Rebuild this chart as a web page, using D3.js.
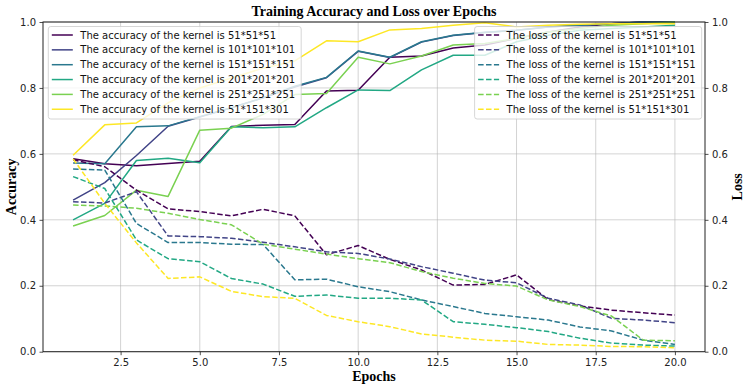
<!DOCTYPE html>
<html>
<head>
<meta charset="utf-8">
<script src="https://cdn.jsdelivr.net/npm/d3@7"></script>
<style>
  html, body { margin: 0; padding: 0; background: #fff; }
  svg { display: block; }
</style>
</head>
<body>
<svg id="chart" width="747" height="389"></svg>
<script>
// ---------------- data ----------------
const epochs = d3.range(1, 21);
const kernels = ["51*51*51", "101*101*101", "151*151*151", "201*201*201", "251*251*251", "51*151*301"];
const colors = ["#440154", "#414487", "#2a788e", "#22a884", "#7ad151", "#fde725"];

const acc51  = [0.585, 0.570, 0.564, 0.571, 0.578, 0.683, 0.687, 0.689, 0.791, 0.793, 0.893, 0.897, 0.921, 0.930, 0.950, 0.970, 0.985, 0.995, 1.000, 1.000];
const acc101 = [0.460, 0.513, 0.595, 0.684, 0.712, 0.740, 0.770, 0.803, 0.831, 0.911, 0.892, 0.939, 0.959, 0.968, 0.975, 0.985, 0.990, 0.995, 1.000, 1.000];
const acc151 = [0.572, 0.570, 0.682, 0.685, 0.713, 0.740, 0.770, 0.805, 0.832, 0.912, 0.893, 0.940, 0.960, 0.969, 0.975, 0.985, 0.990, 0.995, 1.000, 1.000];
const acc201 = [0.400, 0.450, 0.580, 0.587, 0.573, 0.682, 0.679, 0.682, 0.740, 0.794, 0.792, 0.855, 0.899, 0.899, 0.940, 0.960, 0.975, 0.980, 0.985, 0.990];
const acc251 = [0.381, 0.413, 0.490, 0.471, 0.672, 0.678, 0.720, 0.780, 0.783, 0.893, 0.873, 0.897, 0.930, 0.935, 0.950, 0.970, 0.980, 0.990, 0.995, 1.000];
const acc301 = [0.596, 0.688, 0.694, 0.755, 0.800, 0.830, 0.860, 0.882, 0.943, 0.940, 0.976, 0.980, 0.990, 0.998, 0.985, 0.990, 0.993, 0.995, 0.995, 0.995];

const loss51  = [0.582, 0.561, 0.490, 0.433, 0.425, 0.412, 0.432, 0.412, 0.294, 0.322, 0.280, 0.248, 0.202, 0.204, 0.233, 0.158, 0.139, 0.126, 0.118, 0.111];
const loss101 = [0.455, 0.451, 0.485, 0.351, 0.349, 0.344, 0.332, 0.318, 0.303, 0.298, 0.281, 0.258, 0.238, 0.217, 0.209, 0.162, 0.142, 0.101, 0.096, 0.088];
const loss151 = [0.554, 0.551, 0.389, 0.331, 0.331, 0.326, 0.325, 0.218, 0.220, 0.197, 0.182, 0.157, 0.137, 0.116, 0.106, 0.096, 0.075, 0.063, 0.035, 0.022];
const loss201 = [0.531, 0.495, 0.339, 0.282, 0.273, 0.222, 0.205, 0.168, 0.172, 0.162, 0.162, 0.157, 0.091, 0.083, 0.073, 0.061, 0.041, 0.026, 0.020, 0.017];
const loss251 = [0.445, 0.442, 0.435, 0.420, 0.401, 0.385, 0.326, 0.311, 0.296, 0.282, 0.270, 0.243, 0.223, 0.207, 0.199, 0.157, 0.137, 0.108, 0.035, 0.033];
const loss301 = [0.585, 0.450, 0.330, 0.222, 0.227, 0.183, 0.167, 0.162, 0.110, 0.091, 0.076, 0.054, 0.044, 0.035, 0.032, 0.022, 0.020, 0.016, 0.015, 0.012];

const accSeries  = [acc51, acc101, acc151, acc201, acc251, acc301];
const lossSeries = [loss51, loss101, loss151, loss201, loss251, loss301];

const xTicks = [2.5, 5.0, 7.5, 10.0, 12.5, 15.0, 17.5, 20.0];
const yTicks = [0.0, 0.2, 0.4, 0.6, 0.8, 1.0];

const titleText = "Training Accuracy and Loss over Epochs";
const xLabel = "Epochs", yLabelLeft = "Accuracy", yLabelRight = "Loss";

// ---------------- layout ----------------
const L = 43, R = 705, T = 22, B = 351.7;
const svg = d3.select("#chart");
const x = d3.scaleLinear().domain([0.05, 20.95]).range([L, R]);
const yA = d3.scaleLinear().domain([0, 1]).range([B, T]);
const yL = d3.scaleLinear().domain([0, 1]).range([B, T]);

const tickFont = "'DejaVu Sans', sans-serif";
const serif = "'Liberation Serif', 'Times New Roman', serif";

// grid
const grid = svg.append("g");
grid.selectAll("line.gx").data(xTicks).join("line")
  .attr("x1", d => x(d)).attr("x2", d => x(d)).attr("y1", T).attr("y2", B)
  .attr("stroke", "#b0b0b0").attr("stroke-opacity", 0.7).attr("stroke-width", 0.8);
grid.selectAll("line.gy").data(yTicks).join("line")
  .attr("x1", L).attr("x2", R).attr("y1", d => yA(d)).attr("y2", d => yA(d))
  .attr("stroke", "#b0b0b0").attr("stroke-opacity", 0.7).attr("stroke-width", 0.8);

const clip = svg.append("clipPath").attr("id", "clip").append("rect")
  .attr("x", L).attr("y", T - 1).attr("width", R - L).attr("height", B - T + 2);

// accuracy lines
const lineA = d3.line().x((d, i) => x(epochs[i])).y(d => yA(d));
const gA = svg.append("g").attr("clip-path", "url(#clip)");
gA.selectAll("path").data(accSeries).join("path")
  .attr("d", d => lineA(d)).attr("fill", "none")
  .attr("stroke", (d, i) => colors[i]).attr("stroke-width", 1.5)
  .attr("stroke-linejoin", "round");

// legend helper
function legend(labels, dashed, anchor, boxEdge) {
  const g = svg.append("g");
  const rowY0 = 35, rowDy = 14.85;
  const box = g.append("rect");
  const items = g.selectAll("g.it").data(labels).join("g");
  const texts = items.append("text")
    .attr("y", (d, i) => rowY0 + i * rowDy).attr("dy", "0.35em")
    .attr("font-family", tickFont).attr("font-size", 10).attr("fill", "#111")
    .text(d => d);
  let maxW = 0;
  texts.each(function () { maxW = Math.max(maxW, this.getComputedTextLength()); });
  const width = 32 + maxW + 6;
  const left = anchor === "left" ? boxEdge : boxEdge - width;
  box.attr("x", left).attr("y", 26.5).attr("width", width).attr("height", 92.5)
    .attr("rx", 2.5).attr("fill", "#fff").attr("fill-opacity", 0.8)
    .attr("stroke", "#cccccc").attr("stroke-width", 0.8);
  texts.attr("x", left + 32);
  items.append("line")
    .attr("x1", left + 3.5).attr("x2", left + 24.5)
    .attr("y1", (d, i) => rowY0 + i * rowDy).attr("y2", (d, i) => rowY0 + i * rowDy)
    .attr("stroke", (d, i) => colors[i]).attr("stroke-width", 1.5)
    .attr("stroke-dasharray", dashed ? "5.5,2.4" : null);
}

legend(kernels.map(k => "The accuracy of the kernel is " + k), false, "left", 48.3);

// loss lines
const lineL = d3.line().x((d, i) => x(epochs[i])).y(d => yL(d));
const gL = svg.append("g").attr("clip-path", "url(#clip)");
gL.selectAll("path").data(lossSeries).join("path")
  .attr("d", d => lineL(d)).attr("fill", "none")
  .attr("stroke", (d, i) => colors[i]).attr("stroke-width", 1.5)
  .attr("stroke-dasharray", "5.5,2.4").attr("stroke-linejoin", "round");

legend(kernels.map(k => "The loss of the kernel is " + k), true, "right", 701.7);

// axes
const fmt = d3.format(".1f");
const ax = svg.append("g").attr("transform", `translate(0,${B})`)
  .call(d3.axisBottom(x).tickValues(xTicks).tickFormat(fmt).tickSize(3.5).tickPadding(3.5));
const ayL = svg.append("g").attr("transform", `translate(${L},0)`)
  .call(d3.axisLeft(yA).tickValues(yTicks).tickFormat(fmt).tickSize(3.5).tickPadding(3.5));
const ayR = svg.append("g").attr("transform", `translate(${R},0)`)
  .call(d3.axisRight(yL).tickValues(yTicks).tickFormat(fmt).tickSize(3.5).tickPadding(3.5));
[ax, ayL, ayR].forEach(g => {
  g.select(".domain").remove();
  g.selectAll("text").attr("font-family", tickFont).attr("font-size", 10).attr("fill", "#222");
  g.selectAll("line").attr("stroke", "#222").attr("stroke-width", 0.8);
});
// frame
svg.append("rect").attr("x", L).attr("y", T).attr("width", R - L).attr("height", B - T)
  .attr("fill", "none").attr("stroke", "#222").attr("stroke-width", 1);

// titles
svg.append("text").attr("x", (L + R) / 2).attr("y", 16).attr("text-anchor", "middle")
  .attr("font-family", serif).attr("font-weight", "bold").attr("font-size", 14).text(titleText);
svg.append("text").attr("x", (L + R) / 2).attr("y", 381).attr("text-anchor", "middle")
  .attr("font-family", serif).attr("font-weight", "bold").attr("font-size", 14).text(xLabel);
svg.append("text").attr("transform", `translate(15.5,${(T + B) / 2}) rotate(-90)`).attr("text-anchor", "middle")
  .attr("font-family", serif).attr("font-weight", "bold").attr("font-size", 14).text(yLabelLeft);
svg.append("text").attr("transform", `translate(742,${(T + B) / 2}) rotate(-90)`).attr("text-anchor", "middle")
  .attr("font-family", serif).attr("font-weight", "bold").attr("font-size", 14).text(yLabelRight);
</script>
</body>
</html>
